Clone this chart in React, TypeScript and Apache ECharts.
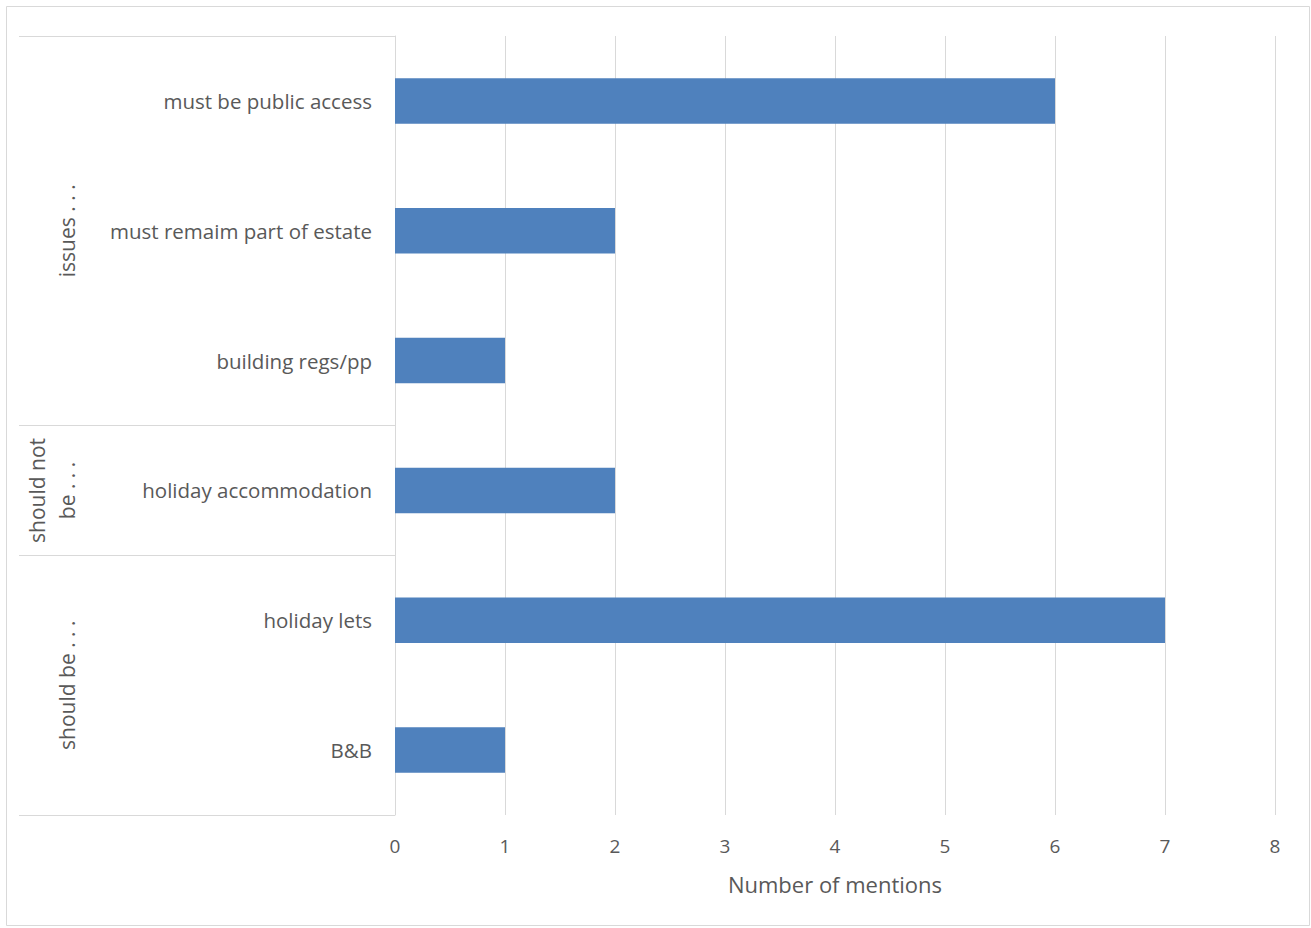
import React, { useEffect, useRef } from "react";
import * as echarts from "echarts";

const categories = ["B&B", "holiday lets", "holiday accommodation", "building regs/pp", "must remaim part of estate", "must be public access"];
const values = [1, 7, 2, 1, 2, 6];
// groups: label lines, first & last category index (bottom-up)
const groupLabels = [["should be . . ."], ["should not", "be . . ."], ["issues . . ."]];
const groupStart = [0, 2, 3];
const groupEnd = [1, 2, 5];
const xTicks = [0, 1, 2, 3, 4, 5, 6, 7, 8];

const FONT = "'Open Sans', sans-serif";
const TEXT = "#595959";
const LINE = "#D9D9D9";

export default function App() {
  const ref = useRef<HTMLDivElement>(null);
  useEffect(() => {
    const chart = echarts.init(ref.current!, null, { renderer: "svg" });
    chart.setOption({
      animation: false,
      backgroundColor: "#fff",
      grid: { left: 395, right: 36, top: 36, bottom: 113 },
      xAxis: {
        type: "value",
        min: xTicks[0],
        max: xTicks[xTicks.length - 1],
        interval: 1,
        axisLine: { show: false },
        axisTick: { show: false },
        splitLine: { show: true, lineStyle: { color: LINE, width: 1 } },
        axisLabel: { color: TEXT, fontSize: 19, fontFamily: FONT, margin: 21 },
        name: "Number of mentions",
        nameLocation: "middle",
        nameGap: 58,
        nameTextStyle: { color: TEXT, fontSize: 22, fontFamily: FONT },
      },
      yAxis: {
        type: "category",
        data: categories,
        axisLine: { show: true, lineStyle: { color: LINE, width: 1 } },
        axisTick: { show: false },
        axisLabel: { color: TEXT, fontSize: 20.5, fontFamily: FONT, margin: 23, padding: [0, 0, 2, 0] },
      },
      series: [
        {
          type: "bar",
          data: values,
          barWidth: "35%",
          itemStyle: { color: "#4F81BD" },
        },
      ],
    });
    const p0 = chart.convertToPixel({ yAxisIndex: 0 }, 0) as number;
    const p1 = chart.convertToPixel({ yAxisIndex: 0 }, 1) as number;
    const step = p0 - p1;
    const bottomOf = (i: number) => (chart.convertToPixel({ yAxisIndex: 0 }, i) as number) + step / 2;
    const topOf = (i: number) => (chart.convertToPixel({ yAxisIndex: 0 }, i) as number) - step / 2;
    const x0 = chart.convertToPixel({ xAxisIndex: 0 }, 0) as number;
    const elements: any[] = [
      { type: "rect", shape: { x: 6.5, y: 6.5, width: 1303, height: 919 }, style: { fill: "none", stroke: LINE, lineWidth: 1 }, silent: true },
    ];
    const bounds = new Set<number>();
    groupStart.forEach((s, gi) => {
      bounds.add(Math.round(bottomOf(s)));
      bounds.add(Math.round(topOf(groupEnd[gi])));
    });
    bounds.forEach((y) => {
      elements.push({ type: "line", shape: { x1: 19, y1: y + 0.5, x2: x0, y2: y + 0.5 }, style: { stroke: LINE, lineWidth: 1 }, silent: true });
    });
    groupLabels.forEach((lines, gi) => {
      const cy = (bottomOf(groupStart[gi]) + topOf(groupEnd[gi])) / 2;
      const n = lines.length;
      lines.forEach((t, li) => {
        elements.push({
          type: "text",
          x: n === 1 ? 67 : 37 + li * 30,
          y: cy,
          rotation: Math.PI / 2,
          style: { text: t, fill: TEXT, fontSize: 21, fontFamily: FONT, align: "center", verticalAlign: "middle" },
          silent: true,
        });
      });
    });
    chart.setOption({ graphic: elements });
    return () => chart.dispose();
  }, []);
  return <div ref={ref} style={{ position: "fixed", left: 0, top: 0, width: 1311, height: 928 }} />;
}
